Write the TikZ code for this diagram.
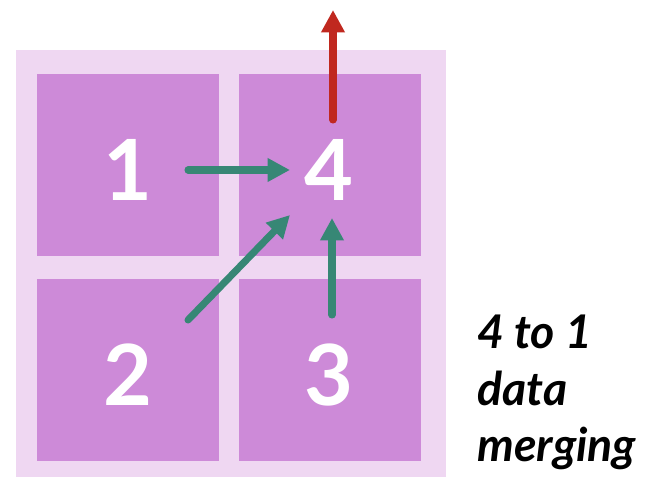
\documentclass[tikz,border=0pt]{standalone}
\usepackage{fontspec}
\setmainfont{Lato}
\usetikzlibrary{arrows.meta}

\definecolor{paleLilac}{HTML}{EFD7F2}
\definecolor{blockPurple}{HTML}{CD8AD8}
\definecolor{mergeGreen}{HTML}{378775}
\definecolor{outRed}{HTML}{C0281F}

\tikzset{
    block/.style={fill=blockPurple, draw=none},
    digit/.style={text=white, font=\bfseries\fontsize{60}{60}\selectfont},
    mergeArrow/.style={mergeGreen, line width=5pt, line cap=round, -{Triangle[width=16pt,length=16pt]}},
    outArrow/.style={outRed, line width=5pt, line cap=round, -{Triangle[width=16pt,length=16pt]}}
}

\begin{document}
\begin{tikzpicture}[x=0.025cm, y=-0.025cm]
    \useasboundingbox (0,0) rectangle (646,478);

    % Draw the background frame
    \fill[paleLilac] (16,50) rectangle (446,477);

    % Draw the blocks
    \fill[block] (37,74) rectangle (219,256);
    \fill[block] (239,74) rectangle (421,256);
    \fill[block] (37,279) rectangle (219,461);
    \fill[block] (239,279) rectangle (421,461);

    % Define the positions of the digits
    \coordinate (onePos) at (128,170);
    \coordinate (fourPos) at (329,170);
    \coordinate (twoPos) at (128,375);
    \coordinate (threePos) at (329,375);

    % Draw the digits
    \node[digit] (one) at (onePos) {1};
    \node[digit] (four) at (fourPos) {4};
    \node[digit] (two) at (twoPos) {2};
    \node[digit] (three) at (threePos) {3};

    % Define the ends of the arrows
    \coordinate (oneTail) at (188,170);
    \coordinate (oneHead) at (290,170);
    \coordinate (twoTail) at (188,320);
    \coordinate (twoHead) at (290,215);
    \coordinate (threeTail) at (332,315);
    \coordinate (threeHead) at (332,218);
    \coordinate (outTail) at (333,120);
    \coordinate (outHead) at (333,10);

    % Draw the arrows
    \draw[mergeArrow] (oneTail) -- (oneHead);
    \draw[mergeArrow] (twoTail) -- (twoHead);
    \draw[mergeArrow] (threeTail) -- (threeHead);
    \draw[outArrow] (outTail) -- (outHead);

    % Draw the caption (base = last line)
    \node[anchor=base west, align=left, inner sep=0pt,
          font=\bfseries\itshape\fontsize{33}{40.5}\selectfont] (caption) at (477,462)
        {4 to 1\\data\\merging};
\end{tikzpicture}
\end{document}
